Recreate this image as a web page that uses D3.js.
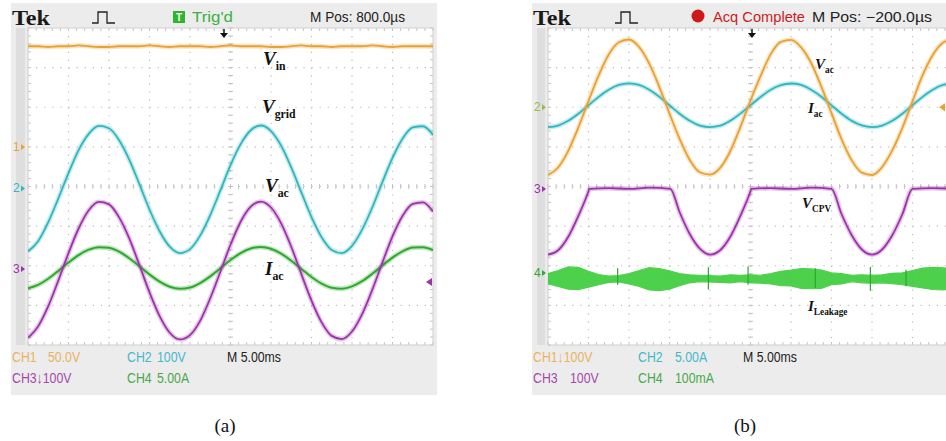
<!DOCTYPE html>
<html lang="en">
<head>
<meta charset="utf-8">
<title>Scope captures</title>
<style>
  html, body { margin: 0; padding: 0; background: #fff; }
  svg { display: block; }
</style>
</head>
<body>
<svg id="chart"></svg>
<script src="https://d3js.org/d3.v7.min.js"></script>
<script>
// time samples in ms (10 div x 5.00 ms)
var timeMs = [0, 1.25, 2.5, 3.75, 5, 6.25, 7.5, 8.75, 10, 11.25, 12.5, 13.75, 15, 16.25, 17.5, 18.75,
  20, 21.25, 22.5, 23.75, 25, 26.25, 27.5, 28.75, 30, 31.25, 32.5, 33.75, 35, 36.25, 37.5, 38.75,
  40, 41.25, 42.5, 43.75, 45, 46.25, 47.5, 48.75, 50];

// ---- panel (a) ----
var vinA = [127, 127, 126, 127, 127, 128, 127, 126, 126, 127, 127, 127, 128, 127, 126, 127, 127, 127, 126, 127,
  128, 127, 127, 127, 126, 126, 127, 128, 127, 127, 126, 127, 127, 127, 128, 127, 126, 127, 127, 127, 127];
var vgridA = [-159, -133, -85, -25, 39, 97, 138, 158, 152, 122, 73, 11, -53, -108, -147, -163,
  -153, -119, -67, -5, 59, 112, 147, 159, 145, 108, 53, -10, -72, -123, -155, -163,
  -145, -104, -48, 16, 77, 126, 154, 157, 135];
var vacA = [-174, -145, -94, -29, 40, 102, 148, 169, 163, 130, 77, 10, -59, -119, -161, -178,
  -167, -131, -74, -7, 61, 119, 157, 170, 155, 115, 56, -13, -80, -135, -169, -177,
  -158, -114, -53, 16, 82, 134, 164, 168, 145];
var iacA = [-2.44, -2.01, -1.24, -0.25, 0.80, 1.75, 2.43, 2.75, 2.66, 2.17, 1.35, 0.34, -0.70, -1.61, -2.25, -2.51,
  -2.35, -1.79, -0.94, 0.09, 1.12, 2.00, 2.58, 2.77, 2.54, 1.93, 1.04, 0.00, -1.02, -1.86, -2.38, -2.50,
  -2.21, -1.55, -0.62, 0.43, 1.43, 2.22, 2.69, 2.74, 2.38];

// ---- panel (b) ----
var vacB = [-171, -152, -110, -51, 16, 80, 133, 164, 171, 152, 110, 51, -16, -80, -133, -164,
  -170, -153, -111, -50, 17, 79, 134, 165, 170, 151, 111, 52, -15, -81, -134, -165,
  -171, -151, -109, -52, 15, 81, 132, 163, 172];
var iacB = [-2.52, -2.31, -1.71, -0.81, 0.25, 1.31, 2.21, 2.81, 3.02, 2.81, 2.21, 1.31, 0.25, -0.81, -1.71, -2.31,
  -2.50, -2.33, -1.70, -0.80, 0.26, 1.30, 2.22, 2.80, 3.00, 2.82, 2.20, 1.32, 0.24, -0.82, -1.72, -2.30,
  -2.52, -2.31, -1.71, -0.81, 0.25, 1.31, 2.21, 2.81, 3.02];
var tCpvB = [0, 1.25, 2.5, 3.75, 5, 5.1, 7.5, 10, 12.5, 15.1, 16.25, 17.5, 18.75, 20, 21.25, 22.5, 23.75, 25, 25.1,
  27.5, 30, 32.5, 35, 36.25, 37.5, 38.75, 40, 41.25, 42.5, 43.75, 45, 47.5, 50];
var vcpvB = [-166, -155, -121, -68, -6, 0, 2, 0, 3, 0, -59, -114, -151, -166, -155, -121, -68, -6, 0,
  2, 0, 3, 0, -64, -117, -153, -166, -153, -117, -64, 0, 2, 0];
var leakHiB = [-2, 6, 15, 14, 4, -4, -8, -7, -2, 6, 13, 11, 5, -2, -5, -6, -7, -8, -5, -6,
  -5, -6, -2, 4, 7, 11, 10, 7, 0, -2, -6, -5, -6, -5, -1, 0, 6, 12, 14, 13, 10];
var leakLoB = [-28, -34, -41, -42, -36, -30, -24, -23, -28, -34, -43, -45, -41, -32, -25, -22, -23, -24, -25, -22,
  -25, -26, -28, -32, -33, -39, -40, -39, -30, -28, -22, -25, -26, -25, -27, -30, -34, -38, -42, -43, -40];
var leakSpikeT = [8.6, 19.8, 24.7, 33.0, 39.8, 44.2];
var leakSpikeHi = [12, 14, 16, 12, 15, 8];
var leakSpikeLo = [-30, -42, -30, -38, -45, -34];

// ---- layout ----
var W = 946, H = 441;
var svg = d3.select('#chart').attr('width', W).attr('height', H);

var panelA = { left: 11, right: 437, gx: 28, gy: 28, w: 405, h: 317 };
var panelB = { left: 532, right: 960, gx: 548, gy: 28, w: 405, h: 317 };

var colOrange = '#e8a234', colCyan = '#31b6bf', colPurple = '#9d33aa', colGreen = '#2fa82f', colLeak = '#2fca2f';
var monoFont = "'Liberation Sans Narrow', 'Liberation Sans', Arial, sans-serif";
var serifFont = "'Liberation Serif', 'Times New Roman', serif";

function chanScale(p, groundDiv, perDiv) {
  return d3.scaleLinear()
    .domain([(-4 - groundDiv) * perDiv, (4 - groundDiv) * perDiv])
    .range([p.gy + p.h, p.gy]);
}

function drawFrame(p, id) {
  var g = svg.append('g');
  g.append('rect').attr('x', p.left).attr('y', 3).attr('width', p.right - p.left).attr('height', 392)
    .attr('fill', '#ececec');
  g.append('rect').attr('x', p.left + 5).attr('y', p.gy).attr('width', p.gx - p.left - 8).attr('height', p.h)
    .attr('fill', '#dedede');
  g.append('rect').attr('x', p.gx).attr('y', p.gy).attr('width', p.w).attr('height', p.h)
    .attr('fill', '#fff');

  var gxs = d3.scaleLinear().domain([0, 10]).range([p.gx, p.gx + p.w]);
  var gys = d3.scaleLinear().domain([0, 8]).range([p.gy, p.gy + p.h]);
  var grid = g.append('g').attr('stroke', '#bcbcbc').attr('stroke-width', 1.2);
  d3.range(1, 10).forEach(function(i) {
    grid.append('line').attr('x1', gxs(i)).attr('x2', gxs(i)).attr('y1', p.gy).attr('y2', p.gy + p.h)
      .attr('stroke-dasharray', '1.2,' + (p.h / 40 - 1.2));
  });
  d3.range(1, 8).forEach(function(i) {
    grid.append('line').attr('x1', p.gx).attr('x2', p.gx + p.w).attr('y1', gys(i)).attr('y2', gys(i))
      .attr('stroke-dasharray', '1.2,' + (p.w / 50 - 1.2));
  });
  // center cross ticks and border ticks
  var ticks = g.append('g').attr('stroke', '#c4c4c4').attr('stroke-width', 1);
  d3.range(0, 50.01, 1).forEach(function(i) {
    var x = gxs(i / 5);
    ticks.append('line').attr('x1', x).attr('x2', x).attr('y1', gys(4) - 2.5).attr('y2', gys(4) + 2.5);
    ticks.append('line').attr('x1', x).attr('x2', x).attr('y1', p.gy).attr('y2', p.gy + 3);
    ticks.append('line').attr('x1', x).attr('x2', x).attr('y1', p.gy + p.h - 3).attr('y2', p.gy + p.h);
  });
  d3.range(0, 40.01, 1).forEach(function(i) {
    var y = gys(i / 5);
    ticks.append('line').attr('y1', y).attr('y2', y).attr('x1', gxs(5) - 2.5).attr('x2', gxs(5) + 2.5);
    ticks.append('line').attr('y1', y).attr('y2', y).attr('x1', p.gx).attr('x2', p.gx + 3);
    ticks.append('line').attr('y1', y).attr('y2', y).attr('x1', p.gx + p.w - 3).attr('x2', p.gx + p.w);
  });
  g.append('rect').attr('x', p.gx).attr('y', p.gy).attr('width', p.w).attr('height', p.h)
    .attr('fill', 'none').attr('stroke', '#cfcfcf');

  svg.append('clipPath').attr('id', id).append('rect')
    .attr('x', p.gx).attr('y', p.gy).attr('width', p.w).attr('height', p.h);
  return gxs;
}

function drawTrace(p, clipId, xs, ys, times, values, color, width) {
  var line = d3.line()
    .x(function(d, i) { return xs(times[i]); })
    .y(function(d) { return ys(d); })
    .curve(d3.curveMonotoneX);
  var g = svg.append('g').attr('clip-path', 'url(#' + clipId + ')');
  g.append('path').attr('d', line(values)).attr('fill', 'none')
    .attr('stroke', color).attr('stroke-opacity', 0.28).attr('stroke-width', width + 3);
  g.append('path').attr('d', line(values)).attr('fill', 'none')
    .attr('stroke', color).attr('stroke-width', width);
}

function groundMark(x, y, label, color) {
  svg.append('text').attr('x', x).attr('y', y + 4).attr('font-family', monoFont)
    .attr('font-size', 12).attr('fill', color).text(label);
  svg.append('path').attr('d', 'M' + (x + 8) + ',' + (y - 3) + 'l4,3l-4,3z').attr('fill', color);
}

function trigArrow(x) {
  svg.append('line').attr('x1', x).attr('x2', x).attr('y1', 29).attr('y2', 34)
    .attr('stroke', '#111').attr('stroke-width', 1.5);
  svg.append('path').attr('d', 'M' + (x - 4) + ',33l4,5l4,-5z').attr('fill', '#111');
}

function levelMark(x, y, color) {
  svg.append('path').attr('d', 'M' + x + ',' + y + 'l6,-4v8z').attr('fill', color);
}

function subLabel(x, y, main, sub, size) {
  var t = svg.append('text').attr('x', x).attr('y', y).attr('font-family', serifFont)
    .attr('font-weight', 'bold').attr('fill', '#111');
  t.append('tspan').attr('font-style', 'italic').attr('font-size', size).text(main);
  t.append('tspan').attr('font-size', size * 0.62).attr('dy', size * 0.25).text(sub);
}

function pulseIcon(x) {
  svg.append('path').attr('d', 'M' + x + ',23h6v-11h9v11h8').attr('fill', 'none')
    .attr('stroke', '#222').attr('stroke-width', 1.3);
}

// header text, squeezed to the width it has on the screen shot
function txt(x, y, s, color, size, len, family, weight) {
  var t = svg.append('text').attr('x', x).attr('y', y).attr('font-family', family || monoFont)
    .attr('font-size', size || 14).attr('font-weight', weight || 'normal').attr('fill', color).text(s);
  if (len) t.attr('textLength', len).attr('lengthAdjust', 'spacingAndGlyphs');
  return t;
}

// channel readout text: same condensed look for every string
function readout(x, y, s, color) {
  var t = txt(x, y, s, color, 15);
  var n = t.node().getComputedTextLength();
  t.attr('textLength', n * 0.82).attr('lengthAdjust', 'spacingAndGlyphs');
  return t;
}

// ===== panel (a) =====
var xA = drawFrame(panelA, 'clipA');
var tA = d3.scaleLinear().domain([0, 50]).range([panelA.gx, panelA.gx + panelA.w]);
var ch1A = chanScale(panelA, 1.0, 50);
var ch2A = chanScale(panelA, -0.05, 100);
var ch3A = chanScale(panelA, -2.08, 100);
var ch4A = chanScale(panelA, -2.08, 5);

drawTrace(panelA, 'clipA', tA, ch1A, timeMs, vinA, colOrange, 1.8);
drawTrace(panelA, 'clipA', tA, ch2A, timeMs, vgridA, colCyan, 1.8);
drawTrace(panelA, 'clipA', tA, ch4A, timeMs, iacA, colGreen, 2.0);
drawTrace(panelA, 'clipA', tA, ch3A, timeMs, vacA, colPurple, 1.8);

groundMark(13, ch1A(0), '1', colOrange);
groundMark(13, ch2A(0), '2', colCyan);
groundMark(13, ch3A(0), '3', colPurple);
levelMark(426, 282, colPurple);
trigArrow(224);

subLabel(263, 65, 'V', 'in', 19);
subLabel(262, 113, 'V', 'grid', 19);
subLabel(265, 192, 'V', 'ac', 19);
subLabel(265, 275, 'I', 'ac', 19);

txt(12, 25, 'Tek', '#1a1a1a', 21, 38, serifFont, 'bold');
pulseIcon(92);
svg.append('rect').attr('x', 173).attr('y', 11).attr('width', 12).attr('height', 12).attr('fill', '#2db52d');
txt(176, 21, 'T', '#fff', 10, null, monoFont, 'bold');
txt(192, 22, "Trig'd", '#3db043', 15, 41);
txt(310, 22, 'M Pos: 800.0\u00b5s', '#222', 14, 95);

readout(12, 362, 'CH1', '#e9b35f'); readout(48, 362, '50.0V', '#e9b35f');
readout(127, 362, 'CH2', '#45b8c8'); readout(157, 362, '100V', '#45b8c8');
readout(227, 362, 'M 5.00ms', '#222');
readout(12, 383, 'CH3\u2193100V', '#a548ad');
readout(127, 383, 'CH4', '#4aa84a'); readout(157, 383, '5.00A', '#4aa84a');

txt(225, 432, '(a)', '#111', 19, null, serifFont).attr('text-anchor', 'middle');

// ===== panel (b) =====
var xB = drawFrame(panelB, 'clipB');
var tB = d3.scaleLinear().domain([0, 50]).range([panelB.gx, panelB.gx + panelB.w]);
var ch1B = chanScale(panelB, 2.0, 100);
var ch2B = chanScale(panelB, 2.0, 5);
var ch3B = chanScale(panelB, -0.06, 100);
var ch4B = chanScale(panelB, -2.18, 100);

// leakage current band
var leakArea = d3.area()
  .x(function(d, i) { return tB(timeMs[i]); })
  .y0(function(d, i) { return ch4B(leakLoB[i]); })
  .y1(function(d) { return ch4B(d); })
  .curve(d3.curveLinear);
var leakG = svg.append('g').attr('clip-path', 'url(#clipB)');
leakG.append('path').attr('d', leakArea(leakHiB)).attr('fill', colLeak).attr('stroke', colLeak)
  .attr('stroke-width', 1.2).attr('opacity', 0.85);
leakG.selectAll('line.spike').data(leakSpikeT).enter().append('line')
  .attr('x1', function(d) { return tB(d); }).attr('x2', function(d) { return tB(d); })
  .attr('y1', function(d, i) { return ch4B(leakSpikeHi[i]); })
  .attr('y2', function(d, i) { return ch4B(leakSpikeLo[i]); })
  .attr('stroke', '#2aa82a').attr('stroke-width', 1.2);

drawTrace(panelB, 'clipB', tB, ch2B, timeMs, iacB, colCyan, 1.8);
drawTrace(panelB, 'clipB', tB, ch1B, timeMs, vacB, colOrange, 1.8);
drawTrace(panelB, 'clipB', tB, ch3B, tCpvB, vcpvB, colPurple, 1.8);

groundMark(534, ch2B(0), '2', '#9cb84a');
groundMark(534, ch3B(0), '3', colPurple);
groundMark(534, ch4B(0), '4', colGreen);
levelMark(939, ch1B(0), colOrange);
trigArrow(752);

subLabel(815, 69, 'V', 'ac', 15);
subLabel(808, 113, 'I', 'ac', 15);
subLabel(802, 208, 'V', 'CPV', 15);
subLabel(808, 311, 'I', 'Leakage', 15);

txt(533, 25, 'Tek', '#1a1a1a', 21, 38, serifFont, 'bold');
pulseIcon(615);
svg.append('circle').attr('cx', 698).attr('cy', 16).attr('r', 6.5).attr('fill', '#d01818');
txt(713, 22, 'Acq Complete', '#cc1c1c', 15, 92);
txt(812, 22, 'M Pos: \u2212200.0\u00b5s', '#222', 14, 120);

readout(533, 362, 'CH1\u2193100V', '#e9b35f');
readout(638, 362, 'CH2', '#45b8c8'); readout(675, 362, '5.00A', '#45b8c8');
readout(743, 362, 'M 5.00ms', '#222');
readout(533, 383, 'CH3', '#a548ad'); readout(570, 383, '100V', '#a548ad');
readout(638, 383, 'CH4', '#4aa84a'); readout(675, 383, '100mA', '#4aa84a');

txt(745, 432, '(b)', '#111', 19, null, serifFont).attr('text-anchor', 'middle');
</script>
</body>
</html>
